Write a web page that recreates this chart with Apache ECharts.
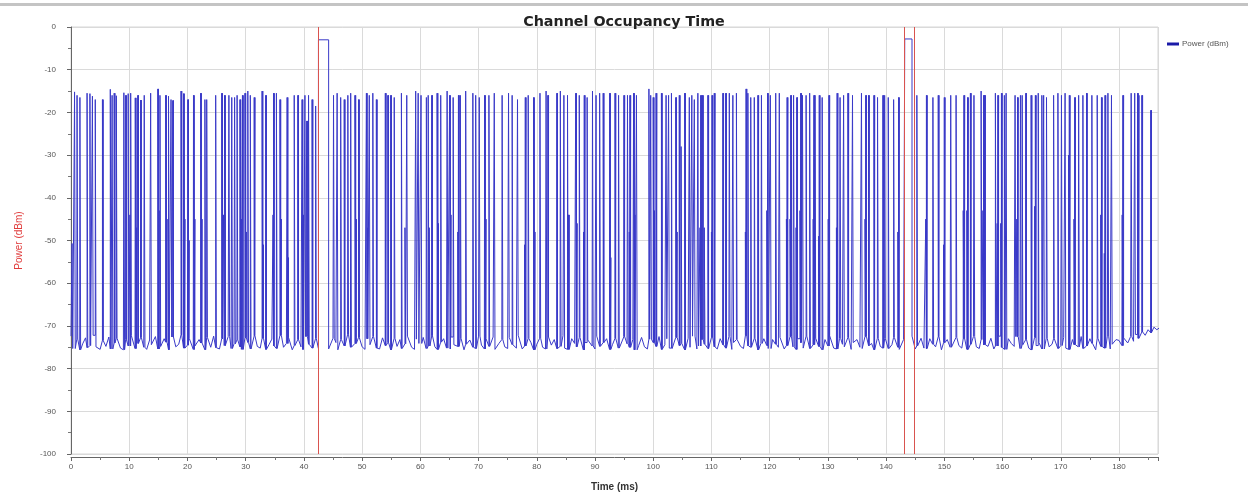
<!DOCTYPE html>
<html>
<head>
<meta charset="utf-8">
<script src="https://cdn.jsdelivr.net/npm/echarts@6/dist/echarts.min.js"></script>
<style>
html,body{margin:0;padding:0;background:#fff;}
#chart{width:1248px;height:497px;}
</style>
</head>
<body>
<div id="chart"></div>
<script>
// ---------- DATA ----------
const chartTitle = "Channel Occupancy Time";
const seriesName = "Power (dBm)";
const xAxisName = "Time (ms)";
const yAxisName = "Power (dBm)";

// noise floor samples (dBm), one every noiseStep ms starting at noiseStart
const noiseStart = 0;
const noiseStep = 0.5;
const noiseFloor = [
-72.4,-75.3,-73.1,-75.6,-74.2,-72.8,-75.1,-74.6,-72.2,-74.9,-75.5,-73.4,-74.8,-72.6,-75.4,-74.0,-72.9,-75.2,-75.6,-73.2,
-74.7,-72.3,-75.3,-74.1,-72.7,-75.0,-75.5,-73.3,-74.4,-72.5,-75.4,-74.8,-73.0,-73.8,-75.6,-72.6,-74.9,-74.3,-72.1,-75.2,
-74.5,-72.9,-75.5,-74.7,-73.2,-74.0,-75.6,-72.7,-75.0,-72.4,-75.1,-75.4,-73.0,-74.6,-72.5,-75.3,-74.2,-73.3,-74.9,-75.5,
-72.8,-73.9,-75.4,-72.3,-74.8,-75.2,-72.9,-75.5,-74.4,-73.1,-74.7,-75.3,-72.2,-75.0,-74.1,-72.7,-75.6,-74.6,-73.2,-74.9,
-75.5,-72.5,-74.3,-75.2,-73.0,-75.3,-74.5,-72.4,-74.8,-75.4,-72.9,-73.9,-75.6,-73.2,-74.7,-72.1,-75.0,-75.3,-74.1,-72.7,
-74.9,-75.5,-73.0,-74.4,-72.5,-75.2,-75.4,-72.8,-74.6,-73.9,-75.6,-72.9,-74.8,-73.2,-75.3,-74.2,-72.4,-75.0,-75.5,-73.1,
-74.1,-72.7,-75.3,-74.7,-72.3,-74.9,-75.5,-73.8,-73.0,-75.2,-75.4,-72.6,-74.4,-74.8,-72.9,-75.6,-74.3,-73.3,-75.0,-75.3,
-72.4,-74.5,-75.4,-73.0,-74.8,-72.6,-75.5,-74.1,-73.2,-74.9,-75.3,-72.7,-74.4,-75.2,-72.2,-75.4,-74.7,-73.0,-73.9,-75.6,
-74.3,-72.9,-75.0,-75.4,-72.6,-74.5,-73.2,-75.3,-74.8,-72.3,-75.2,-75.5,-73.0,-74.1,-74.9,-72.7,-75.6,-73.9,-73.3,-74.7,
-75.4,-72.4,-74.8,-73.9,-73.0,-75.5,-74.4,-72.9,-75.2,-75.3,-72.5,-74.2,-75.0,-73.2,-75.6,-74.6,-72.7,-74.9,-75.4,-73.1,
-73.9,-74.8,-72.5,-75.5,-74.4,-73.0,-75.2,-75.3,-72.7,-74.6,-74.1,-75.6,-72.9,-75.0,-72.4,-75.4,-74.7,-73.2,-74.3,-75.3,
-72.7,-74.9,-75.4,-73.0,-74.4,-75.2,-72.5,-75.5,-73.9,-73.2,-74.8,-75.3,-72.3,-74.7,-75.0,-72.9,-75.6,-74.1,-73.0,-74.6,
-75.3,-73.2,-74.3,-75.0,-72.7,-75.4,-74.6,-72.5,-74.9,-75.5,-73.0,-73.9,-75.2,-72.4,-75.3,-74.4,-72.9,-74.8,-75.6,-73.2,
-74.7,-72.3,-75.2,-75.4,-73.0,-74.3,-74.9,-72.7,-75.5,-73.9,-73.2,-75.0,-75.3,-72.5,-74.6,-74.1,-75.6,-72.9,-74.8,-75.2,
-73.0,-75.3,-74.4,-72.7,-75.0,-75.5,-73.2,-74.1,-74.8,-72.4,-75.4,-74.7,-72.9,-75.2,-75.3,-73.0,-74.3,-74.9,-72.5,-75.6,
-73.9,-73.2,-75.0,-75.4,-72.7,-74.6,-75.2,-73.0,-75.5,-74.3,-72.5,-74.9,-75.3,-73.2,-74.4,-74.8,-72.9,-75.4,-74.7,-72.4,
-75.0,-75.5,-73.0,-74.1,-74.8,-72.5,-75.3,-74.4,-73.2,-75.2,-75.6,-72.7,-74.6,-73.9,-75.4,-72.9,-74.9,-74.3,-73.0,-75.3,
-74.6,-72.7,-75.2,-75.5,-73.2,-74.4,-74.9,-72.5,-75.3,-74.7,-73.0,-74.1,-75.6,-72.9,-74.8,-75.2,-72.4,-75.4,-74.3,-73.2,
-73.4,-74.6,-72.8,-74.0,-72.5,-73.6,-72.0,-72.9,-71.4,-72.2,-70.9,-71.6,-70.3,-70.9,-70.4
];

// packet bursts: start time (ms) and peak power (dBm)
const spikeTimes = [
0.18,0.61,1.04,1.53,2.76,3.25,3.68,4.17,5.40,6.75,7.06,7.42,7.79,9.08,9.39,9.82,10.12,10.25,11.04,11.16,
11.47,11.96,12.58,13.68,14.91,15.03,15.28,16.26,16.38,16.75,17.18,17.48,18.90,19.33,19.45,20.06,20.18,21.04,21.16,22.27,
22.39,23.00,23.31,24.85,25.89,26.20,26.38,27.12,27.61,28.10,28.53,29.02,29.14,29.45,29.88,30.00,30.37,30.80,31.47,32.82,
32.94,33.44,34.70,34.79,35.28,35.89,36.01,37.12,37.24,38.34,38.96,39.69,39.81,40.18,40.49,40.80,41.41,42.02,
45.09,45.71,46.32,46.93,47.55,48.04,48.77,48.89,49.39,50.74,50.86,51.23,51.84,52.45,53.99,54.42,54.91,55.52,56.75,57.36,
57.67,59.20,59.63,60.12,61.04,61.35,61.53,61.96,62.88,63.00,63.50,64.60,65.03,65.15,65.64,66.44,66.55,66.87,67.79,69.02,
69.51,70.12,71.04,71.16,71.78,72.70,74.05,75.15,75.77,76.69,77.91,78.03,78.53,79.45,79.57,80.55,81.60,81.90,83.44,84.05,
84.66,85.28,85.45,86.69,86.81,87.30,88.04,88.16,88.65,89.57,90.18,90.80,91.41,92.52,92.60,93.44,94.05,94.97,95.58,95.89,
96.00,96.63,96.75,97.12,99.26,99.57,100.00,100.10,100.49,101.41,102.21,102.64,103.13,103.87,103.99,104.48,104.79,105.40,106.20,106.63,
107.06,107.67,108.04,108.16,108.47,108.77,109.39,110.00,110.10,110.49,111.96,112.45,113.07,113.68,114.29,115.83,115.95,116.26,116.75,117.36,
117.98,118.59,119.51,119.63,120.12,121.04,121.66,122.88,123.00,123.50,123.62,124.11,124.54,124.66,125.21,125.33,125.64,126.26,126.87,127.48,
127.60,127.79,128.40,128.52,129.02,130.06,130.18,131.47,131.59,132.09,132.70,133.44,134.23,135.77,136.38,136.50,136.99,137.91,138.53,139.45,
139.75,140.37,141.29,142.02,142.14,
145.28,146.81,146.93,148.04,148.96,149.88,150.00,151.10,152.02,153.25,153.37,153.87,153.99,154.48,155.09,156.32,156.63,156.75,156.93,158.77,
159.08,159.20,159.69,159.81,160.31,160.61,162.15,162.45,162.57,163.07,163.37,163.99,164.91,165.52,165.64,166.13,166.75,167.06,167.55,168.77,
169.51,170.12,170.74,171.35,171.47,172.27,172.39,173.07,173.80,174.42,175.34,176.26,176.87,176.99,177.48,177.60,178.10,178.71,180.55,180.67,
182.09,182.70,183.19,183.31,183.93,185.46
];
const spikePeaks = [
-50.7,-15.2,-16.0,-16.5,-15.5,-15.6,-16.2,-17.0,-17.0,-14.6,-16.0,-15.5,-16.1,-15.4,-16.0,-15.6,-44.0,-15.5,-16.6,-47.0,
-16.0,-17.1,-16.0,-15.5,-14.5,-43.0,-16.0,-16.0,-45.0,-16.2,-17.0,-17.2,-15.0,-15.6,-45.0,-17.0,-50.0,-16.0,-45.0,-15.5,
-45.0,-17.0,-17.0,-16.0,-15.5,-44.0,-16.0,-16.0,-16.5,-16.5,-16.0,-17.0,-45.0,-16.0,-15.5,-48.0,-15.0,-16.0,-16.5,-15.0,
-51.0,-16.0,-44.0,-15.5,-15.5,-17.0,-45.0,-16.5,-54.0,-16.0,-16.0,-17.0,-44.0,-16.0,-22.0,-16.0,-17.0,-18.5,
-16.0,-15.5,-16.5,-17.0,-16.0,-15.5,-16.0,-45.0,-17.0,-15.5,-47.0,-16.0,-15.5,-17.0,-15.5,-16.0,-16.0,-16.5,-15.5,-47.0,
-16.0,-15.0,-15.5,-16.0,-16.5,-16.0,-47.0,-16.0,-15.5,-46.0,-16.0,-15.0,-16.0,-44.0,-16.5,-48.0,-16.0,-16.0,-15.0,-15.5,
-16.0,-16.5,-16.0,-45.0,-16.0,-15.5,-16.0,-15.5,-16.0,-17.0,-51.0,-16.5,-16.0,-16.5,-48.0,-15.5,-15.0,-16.0,-15.5,-15.0,
-16.0,-16.0,-44.0,-15.5,-46.0,-16.0,-48.0,-16.0,-16.5,-15.0,-16.0,-15.5,-15.5,-15.5,-54.0,-15.5,-16.0,-16.0,-16.0,-48.0,
-16.0,-15.5,-44.0,-16.0,-14.5,-16.0,-16.5,-43.0,-15.5,-15.5,-16.0,-16.0,-15.5,-16.5,-48.0,-16.0,-28.0,-15.5,-16.5,-16.0,
-17.0,-15.5,-47.0,-16.0,-16.0,-47.0,-16.0,-48.0,-16.0,-15.5,-15.5,-15.5,-15.5,-16.0,-15.5,-48.0,-14.5,-15.5,-16.5,-16.5,
-16.0,-16.0,-43.0,-15.5,-16.0,-15.5,-15.5,-45.0,-16.5,-45.0,-16.0,-16.0,-47.0,-16.5,-43.0,-15.5,-16.0,-16.0,-15.5,-45.0,
-16.0,-16.0,-49.0,-16.0,-16.5,-45.0,-16.0,-47.0,-15.5,-16.5,-16.0,-15.5,-16.0,-15.5,-45.0,-16.0,-16.0,-16.0,-16.5,-16.0,
-16.0,-16.5,-17.0,-48.0,-16.5,
-16.0,-45.0,-16.0,-16.5,-16.0,-51.0,-16.5,-16.0,-16.0,-43.0,-16.0,-43.0,-16.5,-15.5,-16.0,-15.0,-43.0,-16.0,-16.0,-15.5,
-46.0,-16.0,-46.0,-15.5,-16.0,-15.5,-16.0,-45.0,-16.5,-16.0,-16.0,-15.5,-16.0,-42.0,-16.0,-15.5,-16.0,-16.0,-16.5,-16.0,
-15.5,-16.0,-15.5,-30.0,-16.0,-45.0,-16.5,-16.0,-16.0,-15.5,-16.0,-16.0,-44.0,-16.5,-53.0,-16.0,-15.5,-16.0,-44.0,-16.0,
-15.5,-15.5,-15.5,-16.0,-16.0,-19.5
];

// long transmissions (channel occupied) and the gaps they leave in the noise trace
const burstStart = [42.50, 143.20];
const burstEnd   = [44.25, 144.45];
const burstLevel = [-3.0, -2.8];
const gapStart   = [42.45, 143.10];
const gapEnd     = [44.40, 144.85];

// red time markers (ms)
const markerTimes = [42.5, 143.1, 144.8];

// axis ranges / ticks
const xMin = 0, xMax = 186.7, xInterval = 10;
const yMin = -100, yMax = 0, yInterval = 10;

// ---------- BUILD TRACE ----------
const pulseWidth = 0.12;
function floorAt(t){
  let i = Math.round((t - noiseStart) / noiseStep);
  i = Math.max(0, Math.min(noiseFloor.length - 1, i));
  return noiseFloor[i];
}
function inGap(t){
  for (let k = 0; k < gapStart.length; k++) if (t > gapStart[k] && t < gapEnd[k]) return true;
  return false;
}
const pts = [];
noiseFloor.forEach((v, i) => {
  const t = noiseStart + i * noiseStep;
  if (!inGap(t)) pts.push([t, v]);
});
spikeTimes.forEach((t, i) => {
  const p = spikePeaks[i];
  const b = floorAt(t);
  pts.push([t - 0.0005, b], [t, p], [t + pulseWidth, p], [t + pulseWidth + 0.0005, floorAt(t + pulseWidth)]);
});
burstStart.forEach((s, k) => {
  const e = burstEnd[k];
  pts.push([s - 0.0005, floorAt(s)], [s, burstLevel[k]], [e, burstLevel[k]], [e + 0.0005, floorAt(e)]);
});
pts.sort((a, b) => a[0] - b[0]);

// ---------- CHART ----------
const chart = echarts.init(document.getElementById('chart'), null, {renderer: 'canvas'});
const fontFam = "'Liberation Sans', Arial, sans-serif";
chart.setOption({
  animation: false,
  backgroundColor: '#ffffff',
  title: {
    text: chartTitle,
    left: 'center',
    top: 10,
    textStyle: {fontFamily: "'DejaVu Sans', sans-serif", fontSize: 14.3, fontWeight: 'bold', color: '#222'}
  },
  legend: {
    data: [seriesName],
    left: 1162,
    top: 35,
    icon: 'rect',
    itemWidth: 12,
    itemHeight: 3,
    itemGap: 4,
    textStyle: {fontFamily: fontFam, fontSize: 8, color: '#555', padding: [0, 0, 0, -2]}
  },
  grid: {
    left: 71, right: 90, top: 27, bottom: 41,
    show: true, borderColor: '#d6d6d6', borderWidth: 1
  },
  xAxis: {
    type: 'value',
    min: xMin, max: xMax, interval: xInterval,
    offset: 3,
    name: xAxisName,
    nameLocation: 'middle',
    nameGap: 25,
    nameTextStyle: {fontFamily: fontFam, fontSize: 10, fontWeight: 'bold', color: '#333'},
    axisLine: {show: true, onZero: false, lineStyle: {color: '#666', width: 1}},
    axisTick: {show: true, length: 4, lineStyle: {color: '#666'}},
    minorTick: {show: true, splitNumber: 2, length: 3, lineStyle: {color: '#777'}},
    axisLabel: {fontFamily: fontFam, fontSize: 8, color: '#555', margin: 6, showMaxLabel: false},
    splitLine: {show: true, lineStyle: {color: '#dadada', width: 1}}
  },
  yAxis: {
    type: 'value',
    min: yMin, max: yMax, interval: yInterval,
    offset: 3,
    name: yAxisName,
    nameLocation: 'middle',
    nameGap: 44,
    nameTextStyle: {fontFamily: fontFam, fontSize: 10, color: '#e03c3c'},
    axisLine: {show: true, lineStyle: {color: '#666', width: 1}},
    axisTick: {show: true, length: 4, lineStyle: {color: '#666'}},
    minorTick: {show: true, splitNumber: 2, length: 3, lineStyle: {color: '#777'}},
    axisLabel: {fontFamily: fontFam, fontSize: 8, color: '#555', margin: 12},
    splitLine: {show: true, lineStyle: {color: '#dadada', width: 1}}
  },
  graphic: [{
    type: 'rect',
    shape: {x: 0, y: 3, width: 1248, height: 3},
    style: {fill: '#c4c4c4'},
    silent: true
  }],
  series: [{
    name: seriesName,
    type: 'line',
    data: pts,
    showSymbol: false,
    symbol: 'none',
    sampling: null,
    lineStyle: {color: '#3a3ac8', width: 1},
    itemStyle: {color: '#1a1aa8'},
    clip: true,
    markLine: {
      silent: true,
      symbol: ['none', 'none'],
      label: {show: false},
      lineStyle: {color: '#d9534f', width: 1, type: 'solid'},
      data: markerTimes.map(t => ({xAxis: t}))
    }
  }]
});
</script>
</body>
</html>
